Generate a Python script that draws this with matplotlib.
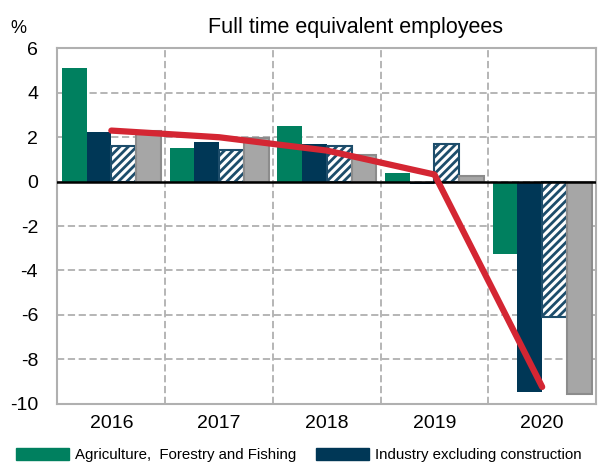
import numpy as np
import matplotlib.pyplot as plt
from matplotlib.patches import Patch

years = ['2016', '2017', '2018', '2019', '2020']
agriculture = [5.1, 1.5, 2.5, 0.37, -3.25]
industry = [2.25, 1.8, 1.7, -0.12, -9.5]
construction = [1.6, 1.42, 1.6, 1.7, -6.1]
services = [2.3, 1.97, 1.18, 0.25, -9.58]
total = [2.3, 2.0, 1.4, 0.32, -9.25]

names = ['Agriculture,  Forestry and Fishing', 'Industry excluding construction',
         'Construction', 'Services']

plt.rcParams['font.family'] = ['Liberation Sans', 'DejaVu Sans']
plt.rcParams['hatch.linewidth'] = 2.0
plt.rcParams['axes.unicode_minus'] = False

fig = plt.figure(figsize=(6.09, 4.66), dpi=100)
ax = fig.add_axes([0.0944, 0.134, 0.8843, 0.762])

x = np.arange(len(years))
w = 0.23
green = '#00805f'
navy = '#003756'
grey = '#a6a6a6'

ax.bar(x - 1.5 * w, agriculture, w, color=green, zorder=3)
ax.bar(x - 0.5 * w, industry, w, color=navy, zorder=3)
ax.bar(x + 0.5 * w, construction, w, facecolor='white', edgecolor='#1d4d6b',
       hatch='////', linewidth=1.5, zorder=3)
ax.bar(x + 1.5 * w, services, w, color=grey, edgecolor='#8c8c8c', linewidth=1.5, zorder=3)
ax.plot(x, total, color='#d42633', lw=4.5, zorder=5, solid_capstyle='round')

ax.axhline(0, color='black', lw=1.8, zorder=4)

ax.set_xlim(-0.5, 4.5)
ax.set_ylim(-10, 6)
ax.set_yticks(range(-10, 7, 2))
ax.set_xticks(x)
ax.set_xticklabels(years)
ax.set_xticks(np.arange(-0.5, 5, 1), minor=True)
ax.tick_params(axis='both', which='both', length=0, labelsize=14)
ax.tick_params(axis='y', pad=14)
ax.tick_params(axis='x', pad=8)

ax.grid(axis='y', which='major', color='#b0b0b0', ls=(0, (4, 2)), lw=1.3, zorder=0)
ax.grid(axis='x', which='minor', color='#b0b0b0', ls=(0, (4, 2)), lw=1.3, zorder=0)
for s in ax.spines.values():
    s.set_color('#b0b0b0')
    s.set_linewidth(1.5)

fig.text(0.583, 0.929, 'Full time equivalent employees', ha='center', va='baseline',
         fontsize=15.5)
fig.text(0.03, 0.929, '%', ha='center', va='baseline', fontsize=13)

handles = [Patch(color=green, label=names[0]), Patch(color=navy, label=names[1])]
fig.legend(handles=handles, loc='center left', bbox_to_anchor=(0.026, 0.0236), ncol=2,
           frameon=False, fontsize=10.8, handlelength=3.55, handleheight=0.8,
           handletextpad=0.4, columnspacing=1.3, borderaxespad=0, borderpad=0)

fig.savefig('out.png', dpi=100)
